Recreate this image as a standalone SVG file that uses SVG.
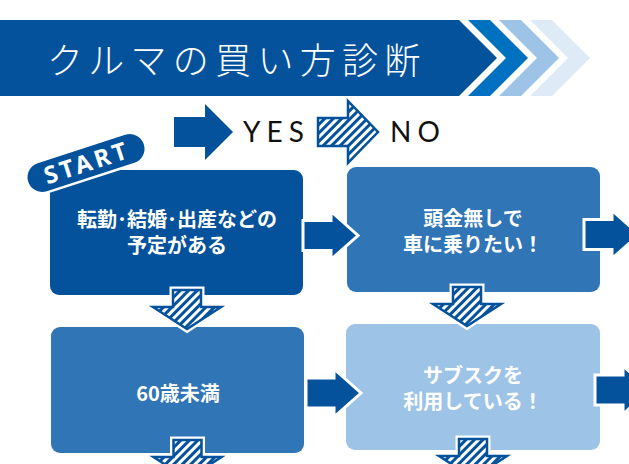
<svg xmlns="http://www.w3.org/2000/svg" width="629" height="464" viewBox="0 0 629 464">
<style>
.dark{fill:#04529C}
.mid{fill:#3075B5}
.light{fill:#9DC3E6}
.bt{font-family:"Noto Sans CJK JP","Noto Sans",sans-serif;font-weight:bold;font-size:20px;fill:#fff;text-anchor:middle}
.solid{fill:#04529C;stroke:#fff;stroke-width:3;stroke-linejoin:miter}
.hw{fill:none;stroke:#fff;stroke-width:7;stroke-linejoin:miter}
.hatch{fill:url(#hp);stroke:#04529C;stroke-width:2.5;stroke-linejoin:miter}
.yn{font-family:"Lato","Open Sans",sans-serif;font-size:28px;fill:#111;letter-spacing:6px}
</style>
<defs>
<pattern id="hp" patternUnits="userSpaceOnUse" width="6" height="6" patternTransform="rotate(45)">
<rect width="6" height="6" fill="#fff"/>
<rect width="3" height="6" fill="#04529C"/>
</pattern>
<path id="down" d="M-14,0 L14,0 L14,17 L34,17 L0,39 L-34,17 L-14,17 Z"/>
<path id="right" d="M0,-15 L28,-15 L28,-24 L55,0 L28,24 L28,15 L0,15 Z"/>
</defs>
<rect width="629" height="464" fill="#fff"/>
<g id="header">
<polygon points="0,20 459,20 497,58 459,96 0,96" fill="#04529C"/>
<polygon points="468,20 490,20 528,58 490,96 468,96 506,58" fill="#0070C0"/>
<polygon points="499,20 521,20 559,58 521,96 499,96 537,58" fill="#9DC3E6"/>
<polygon points="530,20 552,20 590,58 552,96 530,96 568,58" fill="#DEEBF7"/>
<text x="47" y="74" font-family="'Noto Sans CJK JP',sans-serif" font-size="36" letter-spacing="6.3" fill="#fff" font-weight="300">クルマの買い方診断</text>
</g>
<g id="legend">
<polygon points="174,117 205,117 205,104 233,132 205,160 205,147 174,147" fill="#04529C"/>
<text class="yn" x="243" y="142">YES</text>
<polygon class="hatch" points="318,118 348,118 348,101 378,132 348,163 348,146 318,146"/>
<text class="yn" x="390" y="142">NO</text>
</g>
<g id="node1">
<rect class="dark" x="50" y="170" width="253" height="125" rx="9"/>
<text class="bt" x="177" y="227">転勤･結婚･出産などの</text>
<text class="bt" x="177" y="253">予定がある</text>
</g>
<g id="node2">
<rect class="mid" x="347" y="167" width="253" height="125" rx="9"/>
<text class="bt" x="473" y="226">頭金無しで</text>
<text class="bt" x="473" y="252">車に乗りたい！</text>
</g>
<g id="node3">
<rect class="mid" x="51" y="327" width="253" height="126" rx="9"/>
<text class="bt" x="178" y="401" font-size="22">60歳未満</text>
</g>
<g id="node4">
<rect class="light" x="346" y="324" width="254" height="126" rx="9"/>
<text class="bt" x="473" y="383">サブスクを</text>
<text class="bt" x="473" y="409">利用している！</text>
</g>
<g id="start">
<g transform="translate(86,163) rotate(-18)">
<rect x="-62" y="-16" width="124" height="32" rx="16" fill="#04529C" stroke="#fff" stroke-width="2.5"/>
<text x="1" y="8.5" font-family="'Noto Sans','Open Sans',sans-serif" font-weight="bold" font-size="24" letter-spacing="3.5" fill="#fff" text-anchor="middle">START</text>
</g>
</g>
<g id="connectors">
<use href="#right" class="solid" transform="translate(303,235.5)"/>
<use href="#right" class="solid" transform="translate(584,234.5)"/>
<use href="#right" class="solid" transform="translate(306,393)"/>
<use href="#right" class="solid" transform="translate(595,390)"/>
<use href="#down" class="hw" transform="translate(187,290)"/>
<use href="#down" class="hatch" transform="translate(187,290)"/>
<use href="#down" class="hw" transform="translate(467,287)"/>
<use href="#down" class="hatch" transform="translate(467,287)"/>
<use href="#down" class="hw" transform="translate(187.5,440)"/>
<use href="#down" class="hatch" transform="translate(187.5,440)"/>
<use href="#down" class="hw" transform="translate(473,439)"/>
<use href="#down" class="hatch" transform="translate(473,439)"/>
</g>
</svg>
